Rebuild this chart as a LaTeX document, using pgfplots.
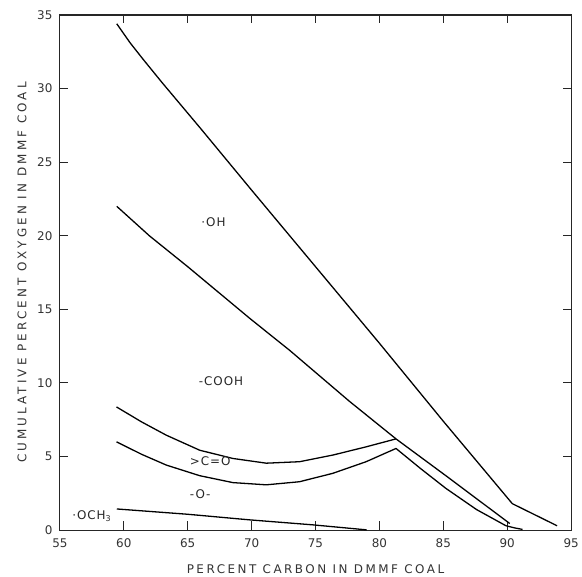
\documentclass[border=0pt]{standalone}
\usepackage{fontspec}
\setmainfont{DejaVu Sans}
\newfontfamily\xlabfont[LetterSpace=21]{DejaVu Sans}
\newfontfamily\ylabfont[LetterSpace=26]{DejaVu Sans}
\newfontfamily\labfont[LetterSpace=8]{DejaVu Sans}
\usepackage{pgfplots}
\pgfplotsset{compat=1.18}
\usetikzlibrary{calc}
\tikzset{
  curve/.style={black, line width=1.3pt, no marks, line join=round},
  lab/.style={anchor=west, font=\labfont\fontsize{12}{12}\selectfont, text=black!85},
  tk/.style={black!85, line width=1pt},
}

\begin{document}
\begin{tikzpicture}
\begin{axis}[
  scale only axis,
  width=512bp, height=516bp,
  xmin=55, xmax=95, ymin=0, ymax=35,
  xtick={55,60,...,95}, ytick={0,5,...,35},
  major tick length=0pt,
  axis line style={line width=1.1pt, black!85},
  /pgf/number format/assume math mode=true,
  ticklabel style={font=\fontsize{12}{12}\selectfont, text=black!80},
  yticklabel style={xshift=-4bp},
  xticklabel style={yshift=-5bp},
  xlabel={\xlabfont\fontsize{12}{12}\selectfont PERCENT CARBON IN DMMF COAL},
  ylabel={\ylabfont\fontsize{12}{12}\selectfont CUMULATIVE PERCENT OXYGEN IN DMMF COAL},
  every axis x label/.style={at={(axis description cs:0.5,-0.0756)}, anchor=center, text=black!80},
  every axis y label/.style={at={(axis description cs:-0.074,0.5)}, rotate=90, anchor=center, text=black!80},
  clip=false,
]
% tick marks, drawn inward on all four sides
\pgfplotsinvokeforeach{60,65,...,90}{
  \draw[tk] (axis cs:#1,0) -- (axis cs:#1,0.62);
  \draw[tk] (axis cs:#1,35) -- (axis cs:#1,34.45);
}
\pgfplotsinvokeforeach{5,10,...,30}{
  \draw[tk] (axis cs:55,#1) -- (axis cs:55.65,#1);
  \draw[tk] (axis cs:95,#1) -- (axis cs:94.35,#1);
}
% total oxygen (top curve)
\addplot[curve] coordinates {
  (59.45,34.4) (60.5,33.1) (61.5,32.0) (63,30.4) (66,27.3) (70,23.1)
  (75,17.9) (80,12.7) (85,7.4) (90.4,1.8) (93.9,0.3)
};
% upper boundary of -COOH region
\addplot[curve] coordinates {
  (59.45,22.0) (62.0,20.0) (65,17.9) (69.84,14.4) (73,12.2) (77.66,8.75)
  (81.3,6.2) (85.2,3.7) (90.2,0.45)
};
% upper boundary of >C=O region
\addplot[curve] coordinates {
  (59.43,8.37) (61.4,7.35) (63.33,6.45) (65.94,5.43) (68.54,4.87)
  (71.15,4.55) (73.75,4.65) (76.35,5.1) (78.96,5.66) (81.3,6.2)
};
% upper boundary of -O- region
\addplot[curve] coordinates {
  (59.43,6.0) (61.4,5.15) (63.33,4.42) (65.94,3.70) (68.54,3.23)
  (71.15,3.08) (73.75,3.29) (76.35,3.86) (78.96,4.65) (81.3,5.55)
  (83.2,4.2) (85.2,2.84) (87.6,1.4) (89.9,0.3) (90.6,0.15) (91.2,0.05)
};
% -OCH3
\addplot[curve] coordinates {
  (59.45,1.44) (65,1.08) (69.84,0.70) (74.8,0.36) (79,0.02)
};

\node[lab] at (axis cs:65.8,20.9) {·OH};
\node[lab] at (axis cs:65.6,10.1) {-COOH};
\node[lab] at (axis cs:64.9,4.7) {>C=O};
\node[lab] at (axis cs:64.9,2.45) {-O-};
\node[lab] at (axis cs:55.7,0.95) {·OCH\textsubscript{3}};
\end{axis}
\path ($(current axis.south west)+(-60bp,-46bp)$) rectangle ($(current axis.north east)+(10bp,15bp)$);
\end{tikzpicture}
\end{document}
